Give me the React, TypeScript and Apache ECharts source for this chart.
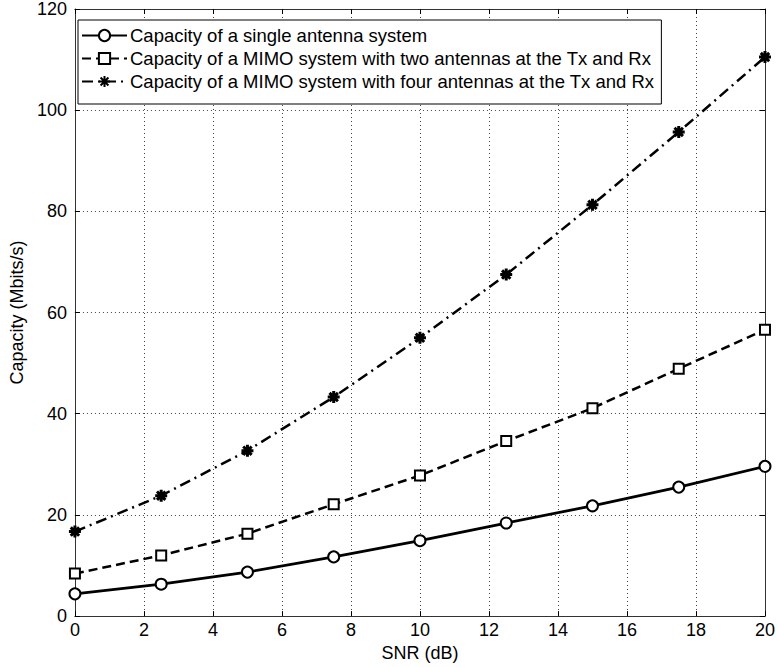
import React, { useEffect, useRef } from "react";
import * as echarts from "echarts";

const snrDb = [0, 2.5, 5, 7.5, 10, 12.5, 15, 17.5, 20];
const singleAntenna = [4.4, 6.3, 8.7, 11.7, 14.9, 18.4, 21.8, 25.5, 29.6];
const mimoTwo = [8.4, 12.0, 16.3, 22.1, 27.8, 34.6, 41.1, 48.9, 56.6];
const mimoFour = [16.7, 23.8, 32.7, 43.3, 55.0, 67.5, 81.3, 95.7, 110.5];
const seriesNames = [
  "Capacity of a single antenna system",
  "Capacity of a MIMO system with two antennas at the Tx and Rx",
  "Capacity of a MIMO system with four antennas at the Tx and Rx",
];
const xAxisTitle = "SNR (dB)";
const yAxisTitle = "Capacity (Mbits/s)";

const FONT = "'Liberation Sans', Arial, Helvetica, sans-serif";
const ASTERISK =
  "path://M0,-10L0,10M-10,0L10,0M-7,-7L7,7M-7,7L7,-7";

export default function App() {
  const ref = useRef<HTMLDivElement>(null);
  useEffect(() => {
    if (!ref.current) return;
    const chart = echarts.init(ref.current, null, { renderer: "svg" });
    const pairs = (ys: number[]) => snrDb.map((x, i) => [x, ys[i]]);
    const gridLine = { show: true, lineStyle: { color: "#444", type: [1, 3] as any, width: 1 } };
    const axisCol = "#333";
    chart.setOption({
      animation: false,
      backgroundColor: "#fff",
      textStyle: { fontFamily: FONT },
      grid: { left: 63, right: 12, top: 9, bottom: 48, show: false },
      legend: {
        left: 78,
        top: 20,
        orient: "vertical",
        padding: [6, 7, 13, 3],
        itemGap: 4,
        itemWidth: 45,
        itemHeight: 14,
        backgroundColor: "#fff",
        borderColor: "#000",
        borderWidth: 1,
        borderRadius: 0,
        textStyle: { fontFamily: FONT, fontSize: 18.5, color: "#000", padding: [0, 0, 0, -2] },
        data: seriesNames,
      },
      xAxis: [
        {
          type: "value",
          min: 0,
          max: 20,
          interval: 2,
          position: "bottom",
          name: xAxisTitle,
          nameLocation: "middle",
          nameGap: 26,
          nameTextStyle: { fontFamily: FONT, fontSize: 18, color: "#000" },
          axisLine: { show: true, onZero: false, lineStyle: { color: axisCol, width: 1 } },
          axisTick: { show: true, inside: true, length: 5, lineStyle: { color: "#000" } },
          axisLabel: { fontFamily: FONT, fontSize: 18, color: "#000", margin: 5 },
          splitLine: gridLine,
        },
        {
          type: "value",
          min: 0,
          max: 20,
          interval: 2,
          position: "top",
          axisLine: { show: true, onZero: false, lineStyle: { color: axisCol, width: 1 } },
          axisTick: { show: true, inside: true, length: 5, lineStyle: { color: "#000" } },
          axisLabel: { show: false },
          splitLine: { show: false },
        },
      ],
      yAxis: [
        {
          type: "value",
          min: 0,
          max: 120,
          interval: 20,
          position: "left",
          name: yAxisTitle,
          nameLocation: "middle",
          nameGap: 29,
          nameTextStyle: { fontFamily: FONT, fontSize: 18, color: "#000" },
          axisLine: { show: true, onZero: false, lineStyle: { color: axisCol, width: 1 } },
          axisTick: { show: true, inside: true, length: 5, lineStyle: { color: "#000" } },
          axisLabel: { fontFamily: FONT, fontSize: 18, color: "#000", margin: 8 },
          splitLine: gridLine,
        },
        {
          type: "value",
          min: 0,
          max: 120,
          interval: 20,
          position: "right",
          axisLine: { show: true, onZero: false, lineStyle: { color: axisCol, width: 1 } },
          axisTick: { show: true, inside: true, length: 5, lineStyle: { color: "#000" } },
          axisLabel: { show: false },
          splitLine: { show: false },
        },
      ],
      series: [
        {
          name: seriesNames[0],
          type: "line",
          data: pairs(singleAntenna),
          symbol: "circle",
          symbolSize: 11,
          showAllSymbol: true,
          lineStyle: { color: "#000", width: 2.8, type: "solid" },
          itemStyle: { color: "#fff", borderColor: "#000", borderWidth: 2 },
          z: 3,
        },
        {
          name: seriesNames[1],
          type: "line",
          data: pairs(mimoTwo),
          symbol: "rect",
          symbolSize: 10,
          lineStyle: { color: "#000", width: 2.5, type: [9, 5] },
          itemStyle: { color: "#fff", borderColor: "#000", borderWidth: 2 },
          z: 3,
        },
        {
          name: seriesNames[2],
          type: "line",
          data: pairs(mimoFour),
          symbol: ASTERISK,
          symbolSize: 12,
          lineStyle: { color: "#000", width: 2.5, type: [11, 5, 2, 5] },
          itemStyle: { color: "#000", borderColor: "#000", borderWidth: 3 },
          z: 3,
        },
      ],
    });
    return () => chart.dispose();
  }, []);
  return (
    <div
      ref={ref}
      style={{ position: "fixed", left: 0, top: 0, width: 778, height: 667, background: "#fff" }}
    />
  );
}
